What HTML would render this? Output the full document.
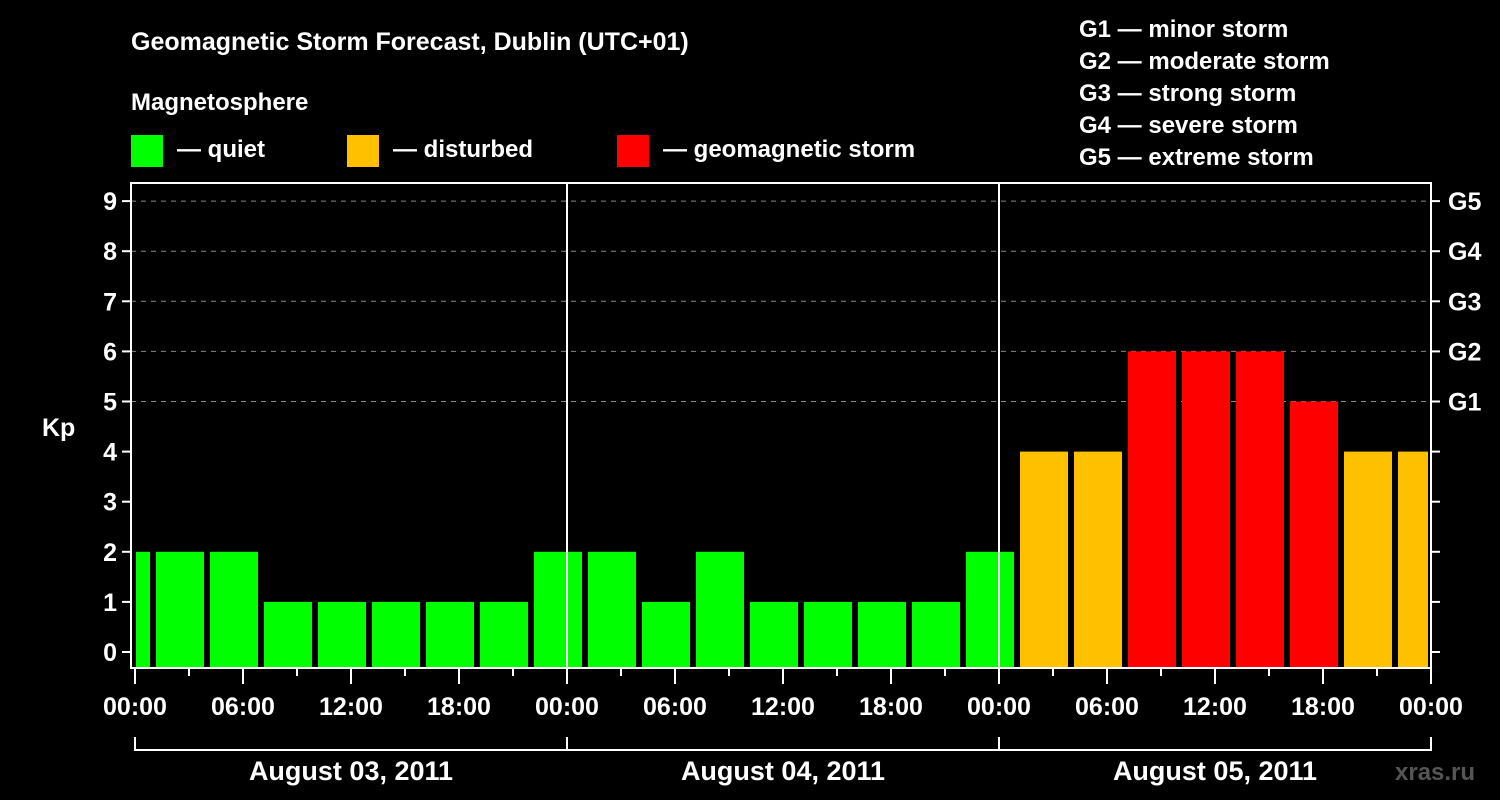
<!DOCTYPE html>
<html><head><meta charset="utf-8"><style>
html,body{margin:0;padding:0;background:#000;}
svg{display:block;font-family:"Liberation Sans",Arial,sans-serif;font-weight:bold;}
</style></head><body>
<svg id="chart" width="1500" height="800" viewBox="0 0 1500 800">
<rect x="0" y="0" width="1500" height="800" fill="#000"/>
<text x="131" y="50" fill="#fff" font-size="25">Geomagnetic Storm Forecast, Dublin (UTC+01)</text>
<text x="131" y="110" fill="#fff" font-size="24">Magnetosphere</text>
<g><rect x="131" y="135" width="32" height="32" fill="#00ff00"/><text x="177" y="157" fill="#fff" font-size="24">— quiet</text></g>
<g><rect x="347" y="135" width="32" height="32" fill="#ffc000"/><text x="393" y="157" fill="#fff" font-size="24">— disturbed</text></g>
<g><rect x="617" y="135" width="32" height="32" fill="#ff0000"/><text x="663" y="157" fill="#fff" font-size="24">— geomagnetic storm</text></g>
<g font-size="24" fill="#fff">
<text x="1079" y="37">G1 — minor storm</text>
<text x="1079" y="69">G2 — moderate storm</text>
<text x="1079" y="101">G3 — strong storm</text>
<text x="1079" y="133">G4 — severe storm</text>
<text x="1079" y="165">G5 — extreme storm</text>
</g>
<text x="42" y="436" fill="#fff" font-size="25">Kp</text>
<text x="1395" y="780" fill="#555" font-size="24">xras.ru</text>
<g id="grid"></g><g id="bars"></g><g id="axes"></g>
</svg>
<script>
const kpValues=[2,2,2,1,1,1,1,1,2,2,1,2,1,1,1,1,2,4,4,6,6,6,5,4,4];
const binStartHours=[-2,1,4,7,10,13,16,19,22,25,28,31,34,37,40,43,46,49,52,55,58,61,64,67,70];
const yTicks=[0,1,2,3,4,5,6,7,8,9];
const gLabels=["G1","G2","G3","G4","G5"];
const gLevels=[5,6,7,8,9];
const xTickLabels=["00:00","06:00","12:00","18:00","00:00","06:00","12:00","18:00","00:00","06:00","12:00","18:00","00:00"];
const dayLabels=["August 03, 2011","August 04, 2011","August 05, 2011"];
const NS="http://www.w3.org/2000/svg";
const L=131,R=1431,T=183,B=668;
const x=h=>135+18*h;
const y=v=>652-50.1*v;
function mk(p,tag,a){const e=document.createElementNS(NS,tag);for(const k in a)e.setAttribute(k,a[k]);p.appendChild(e);return e;}
const grid=document.getElementById('grid'),bars=document.getElementById('bars'),axes=document.getElementById('axes');
yTicks.forEach(v=>{if(v>=5){const l=mk(grid,'line',{x1:L,x2:R,y1:y(v),y2:y(v),stroke:'#888','stroke-width':1,'stroke-dasharray':'5,5'});

}});
kpValues.forEach((v,i)=>{
 let x0=x(binStartHours[i])+3,x1=x(binStartHours[i]+3)-3;
 x0=Math.max(x0,L+5);x1=Math.min(x1,R-3);
 const c=v>=5?'#ff0000':(v>=4?'#ffc000':'#00ff00');
 const r=mk(bars,'rect',{x:x0,y:y(v),width:x1-x0,height:B-1-y(v),fill:c});
 
 
});
// day separators
[1,2].forEach(d=>{const l=mk(axes,'line',{x1:x(24*d),x2:x(24*d),y1:T,y2:B,stroke:'#fff','stroke-width':2});

});
const frame=mk(axes,'rect',{x:L,y:T,width:R-L,height:B-T,fill:'none',stroke:'#fff','stroke-width':2});


yTicks.forEach(v=>{
 mk(axes,'line',{x1:L-9,x2:L,y1:y(v),y2:y(v),stroke:'#fff','stroke-width':2});
 mk(axes,'line',{x1:R,x2:R+9,y1:y(v),y2:y(v),stroke:'#fff','stroke-width':2});
 const t=mk(axes,'text',{x:L-14,y:y(v)+9,fill:'#fff','font-size':25,'text-anchor':'end'});t.textContent=v;
 
 
});
gLabels.forEach((g,i)=>{const t=mk(axes,'text',{x:1448,y:y(gLevels[i])+9,fill:'#fff','font-size':25});t.textContent=g;
 
 });
for(let h=0;h<=72;h+=3){const long=h%6===0;mk(axes,'line',{x1:x(h),x2:x(h),y1:B,y2:B+(long?16:8),stroke:'#fff','stroke-width':2});}
xTickLabels.forEach((s,i)=>{const t=mk(axes,'text',{x:x(6*i),y:715,fill:'#fff','font-size':25,'text-anchor':'middle'});t.textContent=s;
 
 });
mk(axes,'line',{x1:x(0),x2:x(72),y1:750,y2:750,stroke:'#fff','stroke-width':2});
for(let d=0;d<=3;d++)mk(axes,'line',{x1:x(24*d),x2:x(24*d),y1:737,y2:751,stroke:'#fff','stroke-width':2});
dayLabels.forEach((s,i)=>{const t=mk(axes,'text',{x:x(24*i+12),y:780,fill:'#fff','font-size':27,'text-anchor':'middle'});t.textContent=s;
 
 });
</script>
</body></html>
